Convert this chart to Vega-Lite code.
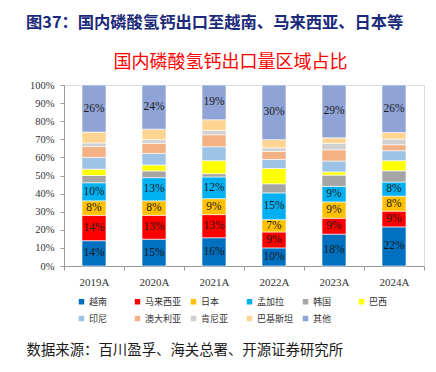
{
  "$schema": "https://vega.github.io/schema/vega-lite/v6.json",
  "width": 360,
  "height": 181,
  "autosize": {"type": "none"},
  "padding": {"left": 64, "top": 85, "right": 12, "bottom": 106},
  "background": "white",
  "title": {
    "text": "图37：国内磷酸氢钙出口至越南、马来西亚、日本等",
    "anchor": "start",
    "frame": "group",
    "dx": -38,
    "dy": -18,
    "font": "Noto Sans CJK SC",
    "fontSize": 16.3,
    "fontWeight": "bold",
    "color": "#1B2A7A"
  },
  "data": {
    "values": [
      {"y": "2019A", "c": "越南", "k": 1, "v": 0.14},
      {"y": "2019A", "c": "马来西亚", "k": 2, "v": 0.14},
      {"y": "2019A", "c": "日本", "k": 3, "v": 0.08},
      {"y": "2019A", "c": "孟加拉", "k": 4, "v": 0.10},
      {"y": "2019A", "c": "韩国", "k": 5, "v": 0.04},
      {"y": "2019A", "c": "巴西", "k": 6, "v": 0.035},
      {"y": "2019A", "c": "印尼", "k": 7, "v": 0.065},
      {"y": "2019A", "c": "澳大利亚", "k": 8, "v": 0.06},
      {"y": "2019A", "c": "肯尼亚", "k": 9, "v": 0.02},
      {"y": "2019A", "c": "巴基斯坦", "k": 10, "v": 0.06},
      {"y": "2019A", "c": "其他", "k": 11, "v": 0.26},
      {"y": "2020A", "c": "越南", "k": 1, "v": 0.148},
      {"y": "2020A", "c": "马来西亚", "k": 2, "v": 0.132},
      {"y": "2020A", "c": "日本", "k": 3, "v": 0.08},
      {"y": "2020A", "c": "孟加拉", "k": 4, "v": 0.128},
      {"y": "2020A", "c": "韩国", "k": 5, "v": 0.037},
      {"y": "2020A", "c": "巴西", "k": 6, "v": 0.033},
      {"y": "2020A", "c": "印尼", "k": 7, "v": 0.064},
      {"y": "2020A", "c": "澳大利亚", "k": 8, "v": 0.056},
      {"y": "2020A", "c": "肯尼亚", "k": 9, "v": 0.02},
      {"y": "2020A", "c": "巴基斯坦", "k": 10, "v": 0.058},
      {"y": "2020A", "c": "其他", "k": 11, "v": 0.244},
      {"y": "2021A", "c": "越南", "k": 1, "v": 0.156},
      {"y": "2021A", "c": "马来西亚", "k": 2, "v": 0.128},
      {"y": "2021A", "c": "日本", "k": 3, "v": 0.088},
      {"y": "2021A", "c": "孟加拉", "k": 4, "v": 0.12},
      {"y": "2021A", "c": "韩国", "k": 5, "v": 0.018},
      {"y": "2021A", "c": "巴西", "k": 6, "v": 0.072},
      {"y": "2021A", "c": "印尼", "k": 7, "v": 0.077},
      {"y": "2021A", "c": "澳大利亚", "k": 8, "v": 0.066},
      {"y": "2021A", "c": "肯尼亚", "k": 9, "v": 0.024},
      {"y": "2021A", "c": "巴基斯坦", "k": 10, "v": 0.059},
      {"y": "2021A", "c": "其他", "k": 11, "v": 0.192},
      {"y": "2022A", "c": "越南", "k": 1, "v": 0.10},
      {"y": "2022A", "c": "马来西亚", "k": 2, "v": 0.088},
      {"y": "2022A", "c": "日本", "k": 3, "v": 0.068},
      {"y": "2022A", "c": "孟加拉", "k": 4, "v": 0.148},
      {"y": "2022A", "c": "韩国", "k": 5, "v": 0.05},
      {"y": "2022A", "c": "巴西", "k": 6, "v": 0.085},
      {"y": "2022A", "c": "印尼", "k": 7, "v": 0.05},
      {"y": "2022A", "c": "澳大利亚", "k": 8, "v": 0.044},
      {"y": "2022A", "c": "肯尼亚", "k": 9, "v": 0.02},
      {"y": "2022A", "c": "巴基斯坦", "k": 10, "v": 0.045},
      {"y": "2022A", "c": "其他", "k": 11, "v": 0.302},
      {"y": "2023A", "c": "越南", "k": 1, "v": 0.176},
      {"y": "2023A", "c": "马来西亚", "k": 2, "v": 0.088},
      {"y": "2023A", "c": "日本", "k": 3, "v": 0.09},
      {"y": "2023A", "c": "孟加拉", "k": 4, "v": 0.086},
      {"y": "2023A", "c": "韩国", "k": 5, "v": 0.062},
      {"y": "2023A", "c": "巴西", "k": 6, "v": 0.018},
      {"y": "2023A", "c": "印尼", "k": 7, "v": 0.06},
      {"y": "2023A", "c": "澳大利亚", "k": 8, "v": 0.062},
      {"y": "2023A", "c": "肯尼亚", "k": 9, "v": 0.035},
      {"y": "2023A", "c": "巴基斯坦", "k": 10, "v": 0.031},
      {"y": "2023A", "c": "其他", "k": 11, "v": 0.292},
      {"y": "2024A", "c": "越南", "k": 1, "v": 0.216},
      {"y": "2024A", "c": "马来西亚", "k": 2, "v": 0.087},
      {"y": "2024A", "c": "日本", "k": 3, "v": 0.083},
      {"y": "2024A", "c": "孟加拉", "k": 4, "v": 0.078},
      {"y": "2024A", "c": "韩国", "k": 5, "v": 0.062},
      {"y": "2024A", "c": "巴西", "k": 6, "v": 0.056},
      {"y": "2024A", "c": "印尼", "k": 7, "v": 0.055},
      {"y": "2024A", "c": "澳大利亚", "k": 8, "v": 0.033},
      {"y": "2024A", "c": "肯尼亚", "k": 9, "v": 0.031},
      {"y": "2024A", "c": "巴基斯坦", "k": 10, "v": 0.037},
      {"y": "2024A", "c": "其他", "k": 11, "v": 0.262}
    ]
  },
  "encoding": {
    "x": {
      "field": "y",
      "type": "nominal",
      "sort": null,
      "scale": {"paddingInner": 0, "paddingOuter": 0},
      "axis": {
        "title": "数据来源：百川盈孚、海关总署、开源证券研究所",
        "titleX": -38,
        "titleY": 88,
        "titleAlign": "left",
        "titleBaseline": "alphabetic",
        "titleFont": "Noto Sans CJK SC",
        "titleFontSize": 14.4,
        "titleFontWeight": "normal",
        "titleColor": "#1a1a1a",
        "labelAngle": 0,
        "labelFont": "Liberation Serif",
        "labelFontSize": 11,
        "labelColor": "#333333",
        "labelPadding": 6,
        "tickBand": "extent",
        "tickSize": 4,
        "tickColor": "#9a9a9a",
        "domainColor": "#9a9a9a",
        "grid": false
      }
    },
    "y": {
      "field": "v",
      "type": "quantitative",
      "stack": "zero",
      "scale": {"domain": [0, 1], "nice": false},
      "axis": {
        "title": "国内磷酸氢钙出口量区域占比",
        "titleAngle": 0,
        "titleX": 166,
        "titleY": -18,
        "titleAlign": "center",
        "titleBaseline": "alphabetic",
        "titleFont": "Noto Sans CJK SC",
        "titleFontSize": 18,
        "titleFontWeight": "normal",
        "titleColor": "#FF0000",
        "values": [0, 0.1, 0.2, 0.3, 0.4, 0.5, 0.6, 0.7, 0.8, 0.9, 1],
        "format": ".0%",
        "labelFont": "Liberation Serif",
        "labelFontSize": 10.5,
        "labelColor": "#333333",
        "labelPadding": 6,
        "tickSize": 4,
        "tickColor": "#9a9a9a",
        "domainColor": "#9a9a9a",
        "grid": false
      }
    },
    "order": {"field": "k", "type": "quantitative", "sort": "ascending"}
  },
  "layer": [
    {
      "mark": {"type": "bar", "width": 24, "stroke": "white", "strokeWidth": 0.6},
      "encoding": {
        "color": {
          "field": "c",
          "type": "nominal",
          "sort": ["越南", "马来西亚", "日本", "孟加拉", "韩国", "巴西", "印尼", "澳大利亚", "肯尼亚", "巴基斯坦", "其他"],
          "scale": {
            "domain": ["越南", "马来西亚", "日本", "孟加拉", "韩国", "巴西", "印尼", "澳大利亚", "肯尼亚", "巴基斯坦", "其他"],
            "range": ["#0070C0", "#FF0000", "#FFC000", "#00B0F0", "#A5A5A5", "#FFFF00", "#9DC3E6", "#F4B183", "#D0D0D0", "#FFD591", "#8FA3D6"]
          },
          "legend": {
            "orient": "none",
            "legendX": 13,
            "legendY": 212,
            "direction": "horizontal",
            "columns": 6,
            "gridAlign": "all",
            "title": null,
            "padding": 0,
            "symbolType": "square",
            "symbolSize": 30,
            "symbolStrokeWidth": 0,
            "labelFont": "Noto Sans CJK SC",
            "labelFontSize": 9,
            "labelColor": "#333333",
            "labelOffset": 3,
            "columnPadding": 7,
            "rowPadding": 7
          }
        }
      }
    },
    {
      "mark": {"type": "text", "font": "Liberation Serif", "fontSize": 11.5, "color": "#1a1a1a", "baseline": "middle"},
      "encoding": {
        "y": {"field": "v", "type": "quantitative", "stack": "zero", "bandPosition": 0.5},
        "text": {
          "condition": {
            "test": "indexof(['越南','马来西亚','日本','孟加拉','其他'], datum.c) >= 0",
            "field": "v",
            "format": ".0%"
          },
          "value": ""
        }
      }
    }
  ]
}
